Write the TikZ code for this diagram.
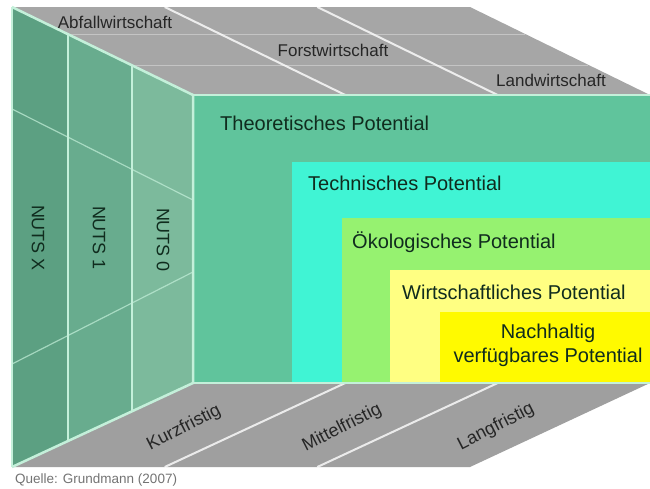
\documentclass[tikz,border=0pt]{standalone}
\usepackage{fontspec}
\setmainfont{Liberation Sans}
\definecolor{theo}{RGB}{96,196,156}
\definecolor{tech}{RGB}{64,244,212}
\definecolor{oeko}{RGB}{150,242,112}
\definecolor{wirt}{RGB}{255,255,130}
\definecolor{nach}{RGB}{255,250,0}
\definecolor{nutsx}{RGB}{92,160,130}
\definecolor{nutsa}{RGB}{104,172,142}
\definecolor{nutsb}{RGB}{124,186,156}
\definecolor{face}{RGB}{166,166,166}
\definecolor{band}{RGB}{196,196,196}
\definecolor{edge}{RGB}{196,240,218}
\definecolor{ink}{RGB}{16,44,30}
\begin{document}
\begin{tikzpicture}[x=1pt,y=-1pt,
  potlabel/.style={inner sep=0pt, text=ink, font=\fontsize{20}{24}\selectfont},
  toplabel/.style={inner sep=0pt, text=black!85, font=\fontsize{17}{20}\selectfont},
  botlabel/.style={inner sep=0pt, text=black!85, rotate=27, font=\fontsize{18}{21}\selectfont},
  nutslabel/.style={inner sep=0pt, text=ink, rotate=-90, font=\fontsize{18}{21}\selectfont},
  divline/.style={white, line width=2pt, opacity=.8},
  rim/.style={edge, line width=2.5pt}]
\useasboundingbox (0,0) rectangle (650,488);
% corners of the cube
\coordinate (tbl) at (12,7);
\coordinate (tbr) at (470,7);
\coordinate (ftl) at (193,95);
\coordinate (ftr) at (650,95);
\coordinate (fbl) at (193,383);
\coordinate (fbr) at (650,383);
\coordinate (bbl) at (12,467);
\coordinate (bbr) at (470,467);
% top face
\fill[face] (tbl) -- (tbr) -- (ftr) -- (ftl) -- cycle;
\coordinate (ta) at (68,34.2);
\coordinate (tb) at (132,65.3);
\coordinate (ta') at (525,34.2);
\coordinate (tb') at (588,65.3);
\draw[band, line width=1.2pt] (ta) -- (ta');
\draw[band, line width=1.2pt] (tb) -- (tb');
\coordinate (tc) at (164.7,7);
\coordinate (td) at (317.3,7);
\coordinate (tc') at (345.3,95);
\coordinate (td') at (497.7,95);
\draw[divline] (tc) -- (tc');
\draw[divline] (td) -- (td');
\node[toplabel] (abfall) at (115,22) {Abfallwirtschaft};
\node[toplabel] (forst) at (333,50) {Forstwirtschaft};
\node[toplabel] (land) at (551,80) {Landwirtschaft};
% bottom face
\fill[face!96!black] (fbl) -- (fbr) -- (bbr) -- (bbl) -- cycle;
\coordinate (bc) at (164.7,467);
\coordinate (bd) at (317.3,467);
\coordinate (bc') at (345.3,383);
\coordinate (bd') at (497.7,383);
\draw[divline] (bc') -- (bc);
\draw[divline] (bd') -- (bd);
\node[botlabel] (kurz) at (184,428) {Kurzfristig};
\node[botlabel] (mittel) at (342,428) {Mittelfristig};
\node[botlabel] (lang) at (496,427) {Langfristig};
% left face
\coordinate (ba) at (68,441);
\coordinate (bb) at (132,411.3);
\fill[nutsx] (tbl) -- (ta) -- (ba) -- (bbl) -- cycle;
\fill[nutsa] (ta) -- (tb) -- (bb) -- (ba) -- cycle;
\fill[nutsb] (tb) -- (ftl) -- (fbl) -- (bb) -- cycle;
\draw[edge, line width=1.5pt] (ta) -- (ba);
\draw[edge, line width=1.5pt] (tb) -- (bb);
\coordinate (la) at (12,109);
\coordinate (la') at (193,200);
\coordinate (lb) at (12,364);
\coordinate (lb') at (193,272);
\draw[edge, line width=1.2pt, opacity=.7] (la) -- (la');
\draw[edge, line width=1.2pt, opacity=.7] (lb) -- (lb');
\node[nutslabel] (nutsX) at (38,238) {NUTS X};
\node[nutslabel] (nuts1) at (99,238) {NUTS 1};
\node[nutslabel] (nuts0) at (163,240) {NUTS 0};
% front face
\fill[theo] (ftl) rectangle (fbr);
\fill[tech] (292,162) rectangle (fbr);
\fill[oeko] (342,218) rectangle (fbr);
\fill[wirt] (390,270) rectangle (fbr);
\fill[nach] (440,312) rectangle (fbr);
\node[potlabel, anchor=west] (theoL) at (220,123) {Theoretisches Potential};
\node[potlabel, anchor=west] (techL) at (308,183) {Technisches Potential};
\node[potlabel, anchor=west] (oekoL) at (352,242) {Ökologisches Potential};
\node[potlabel, anchor=west] (wirtL) at (402,292) {Wirtschaftliches Potential};
\node[potlabel, align=center] (nachL) at (548,345) {Nachhaltig\\verfügbares Potential};
% rims
\draw[rim] (tbl) -- (ftl) -- (fbl) -- (bbl);
\draw[rim] (ftl) -- (ftr);
\draw[rim] (fbl) -- (fbr);
\draw[edge, line width=1.5pt] (tbl) -- (bbl);
% source
\node[inner sep=0pt, anchor=west, text=black!55, font=\fontsize{13.5}{16}\selectfont] (quelle) at (15,480) {Quelle: Grundmann (2007)};
\end{tikzpicture}
\end{document}
